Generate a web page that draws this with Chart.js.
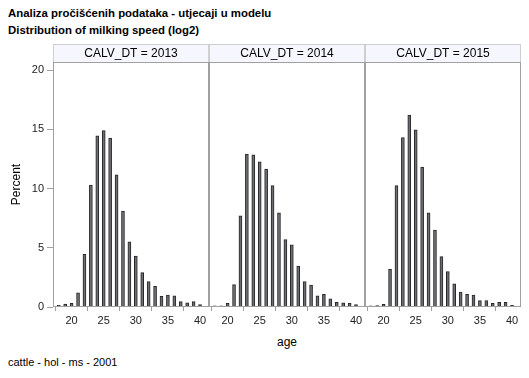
<!DOCTYPE html>
<html><head><meta charset="utf-8">
<script src="https://cdn.jsdelivr.net/npm/chart.js@4/dist/chart.umd.min.js"></script>
<style>
html,body{margin:0;padding:0;background:#fff;width:529px;height:378px;overflow:hidden;font-family:"Liberation Sans",Arial,sans-serif;}
.t{position:absolute;left:8px;font-weight:bold;font-size:11.4px;color:#000;white-space:nowrap;}
#xt{position:absolute;top:335px;left:53px;width:468px;text-align:center;font-size:12px;color:#000;}
#ft{position:absolute;left:8px;top:356px;font-size:11px;color:#000;}
</style></head><body>
<div class="t" style="top:7px">Analiza pročišćenih podataka - utjecaji u modelu</div>
<div class="t" style="top:24px">Distribution of milking speed (log2)</div>
<div style="position:absolute;left:0;top:44px;width:209px;height:291px"><canvas id="c1"></canvas></div>
<div style="position:absolute;left:209px;top:44px;width:156px;height:291px"><canvas id="c2"></canvas></div>
<div style="position:absolute;left:365px;top:44px;width:156px;height:291px"><canvas id="c3"></canvas></div>
<div id="xt">age</div>
<div id="ft">cattle - hol - ms - 2001</div>
<script>
const ages = [18,19,20,21,22,23,24,25,26,27,28,29,30,31,32,33,34,35,36,37,38,39,40];
const panels = ["CALV_DT = 2013","CALV_DT = 2014","CALV_DT = 2015"];
const pct2013 = [0.15,0.25,0.3,1.2,4.45,10.3,14.45,14.9,14.25,11.15,8.1,5.5,4.3,2.9,2.15,1.75,0.9,1.0,0.95,0.45,0.35,0.45,0.2];
const pct2014 = [0.1,0.1,0.3,1.9,7.7,12.9,12.85,12.25,11.65,10.25,7.95,5.7,5.25,3.45,2.15,1.85,0.95,1.07,0.7,0.4,0.35,0.3,0.2];
const pct2015 = [0.1,0.12,0.22,3.2,10.25,14.3,16.2,14.95,11.8,7.95,6.5,4.25,3.0,1.95,1.25,1.07,1.0,0.55,0.55,0.3,0.4,0.4,0.15];
const xTicks = [20,25,30,35,40];
const yTicks = [0,5,10,15,20];

const headerPlugin = {
  id:'hdr',
  afterDraw(chart, args, opts){
    const ctx = chart.ctx, a = chart.chartArea;
    ctx.save();
    ctx.fillStyle = '#f6f7fe';
    ctx.fillRect(a.left, a.top-18, a.right-a.left, 18);
    ctx.strokeStyle = '#cfcfcf';
    ctx.lineWidth = 1;
    ctx.strokeRect(a.left+0.5, a.top-17.5, a.right-a.left-1, 18);
    ctx.strokeStyle = '#a0a0a0';
    ctx.strokeRect(a.left+0.5, a.top+0.5, a.right-a.left-1, a.bottom-a.top-1);
    ctx.fillStyle = '#000';
    ctx.font = '12px "Liberation Sans", Arial, sans-serif';
    ctx.textAlign = 'center';
    ctx.textBaseline = 'middle';
    ctx.fillText(opts.text, (a.left+a.right)/2, a.top-8.5);
    ctx.restore();
  }
};

function make(id, label, values, showY){
  const data = ages.map((a,i)=>({x:a, y:values[i]}));
  const yScale = {display:showY, min:0, max:20.68,
    afterBuildTicks(s){ s.ticks = yTicks.map(v=>({value:v})); },
    grid:{drawOnChartArea:false, drawTicks:true, tickLength:6, color:'#a0a0a0'},
    border:{display:false},
    title:{display:true, text:'Percent', color:'#000', font:{size:12, family:'"Liberation Sans", Arial, sans-serif'}, padding:{top:9,bottom:0}},
    ticks:{font:{size:11, family:'"Liberation Sans", Arial, sans-serif'}, color:'#222', padding:3}
  };
  if (showY) yScale.afterFit = s => { s.width = 53; };
  return new Chart(document.getElementById(id), {
    type:'bar',
    data:{datasets:[{data, backgroundColor:'#6c6e73', borderColor:'#262626', borderWidth:1, barThickness:3, borderSkipped:'bottom', minBarLength:1}]},
    options:{
      responsive:true, maintainAspectRatio:false, animation:false,
      layout:{padding:{top:18,left:0,right:0,bottom:0}},
      plugins:{legend:{display:false}, tooltip:{enabled:false}, hdr:{text:label}},
      scales:{
        x:{type:'linear', min:17.1, max:41.4, offset:false,
          afterBuildTicks(s){ s.ticks = xTicks.map(v=>({value:v})); },
          afterFit(s){ s.height = 28; s.paddingLeft = 0; s.paddingRight = 0; },
          grid:{drawOnChartArea:false, drawTicks:true, tickLength:4, color:'#a0a0a0'},
          border:{display:false},
          ticks:{font:{size:11, family:'"Liberation Sans", Arial, sans-serif'}, color:'#222', padding:3, maxRotation:0, autoSkip:false}
        },
        y: yScale
      }
    },
    plugins:[headerPlugin]
  });
}
make('c1', panels[0], pct2013, true);
make('c2', panels[1], pct2014, false);
make('c3', panels[2], pct2015, false);
</script>
</body></html>
